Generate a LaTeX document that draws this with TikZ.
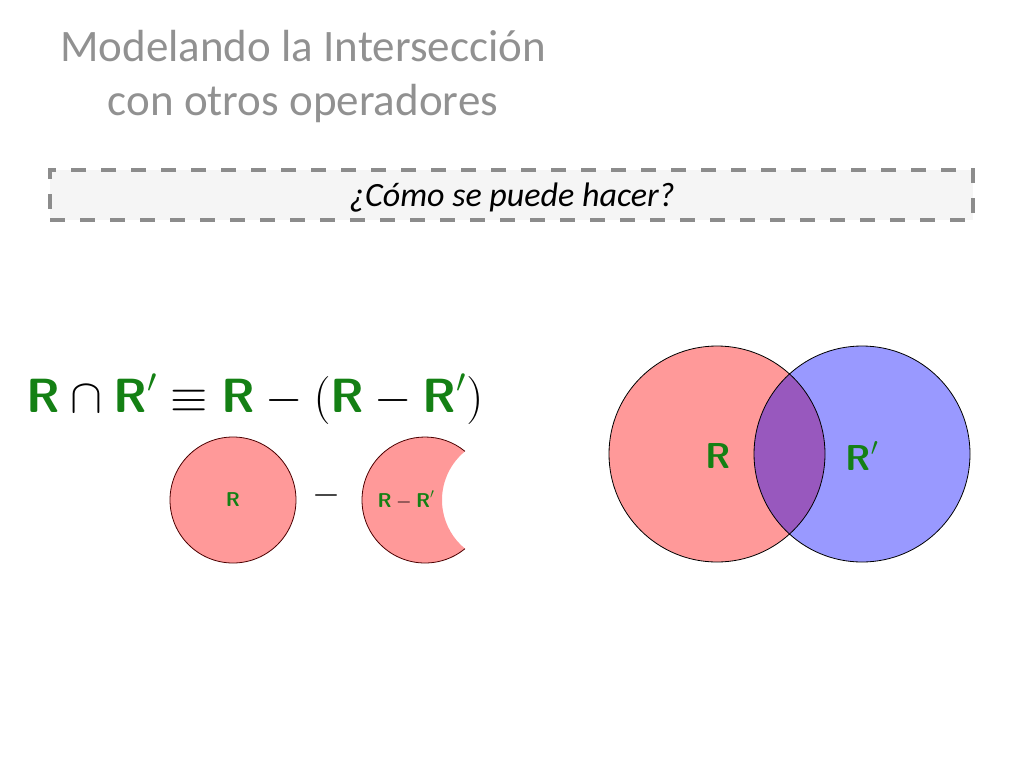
\documentclass[tikz,border=0pt]{standalone}
\usepackage{fix-cm}
\usepackage{fontspec}
\setmainfont{Carlito}
\usepackage{xcolor}
\usepackage{tikz}
\usetikzlibrary{positioning}

\definecolor{rgreen}{RGB}{20,128,20}
\definecolor{rpink}{RGB}{255,153,153}
\definecolor{rblue}{RGB}{153,153,255}
\definecolor{rpurple}{RGB}{152,88,190}
\definecolor{titlegray}{RGB}{145,145,145}
\definecolor{boxgray}{RGB}{140,140,140}

\newcommand{\relR}{\textcolor{rgreen}{\mbox{\sffamily\bfseries R}}}
\newcommand{\relRp}{\textcolor{rgreen}{\mbox{\sffamily\bfseries R}'}}

\begin{document}
\begin{tikzpicture}[x=1pt,y=-1pt,
    title/.style={text=titlegray,align=center,font=\fontsize{45}{54}\selectfont},
    askbox/.style={draw=boxgray,fill=black!4,line width=4pt,dash pattern=on 15pt off 15pt,
                   minimum width=923pt,minimum height=50pt},
    setc/.style={circle,inner sep=0pt},
    big/.style={font=\fontsize{48}{54}\selectfont},
    small/.style={font=\fontsize{20}{22}\selectfont},
    mid/.style={font=\fontsize{36}{40}\selectfont},
                        ]
    \useasboundingbox (0,0) rectangle (1024,768);

    \node[title] (title) at (303,77) {Modelando la Intersección\\con otros operadores};
    \node[askbox] (ask) at (511.5,195) {};
    \node[font=\itshape\fontsize{34}{38}\selectfont] (asktext) at (512,198) {¿Cómo se puede hacer?};

    % formula
    \node[big] (formula) at (255,399) {$\relR\cap\relRp\equiv\relR-(\relR-\relRp)$};

    % R minus (R - R')
    \node[setc,fill=rpink,draw=black!70!red,line width=0.8pt,minimum size=126pt] (rset) at (233,500) {};
    \node[small] (rlab) at (rset.center) {$\relR$};
    \node[font=\fontsize{36}{40}\selectfont] (minus) at (326,495) {$-$};
    \fill[rpink] (425,500) ++(50.6:63) coordinate (moontop)
        arc[start angle=50.6,end angle=309.4,radius=63]
        arc[start angle=230.6,end angle=129.4,radius=63] -- cycle;
    \draw[black!70!red,line width=0.8pt] (moontop) arc[start angle=50.6,end angle=309.4,radius=63];
    \coordinate (moon) at (406,500);
    \node[small] (diflab) at (moon) {$\relR-\relRp$};

    % Venn
    \node[setc,fill=rpink,minimum size=216pt] (bigR) at (717,454) {};
    \node[setc,fill=rblue,minimum size=216pt] (bigRp) at (862,454) {};
    \begin{scope}
      \clip (bigR.center) circle (108);
      \fill[rpurple] (bigRp.center) circle (108);
    \end{scope}
    \draw[line width=0.8pt] (bigR.center) circle (108) (bigRp.center) circle (108);
    \node[mid] (bigRlab) at (718,456) {$\relR$};
    \node[mid] (bigRplab) at (862,456) {$\relRp$};
\end{tikzpicture}
\end{document}
